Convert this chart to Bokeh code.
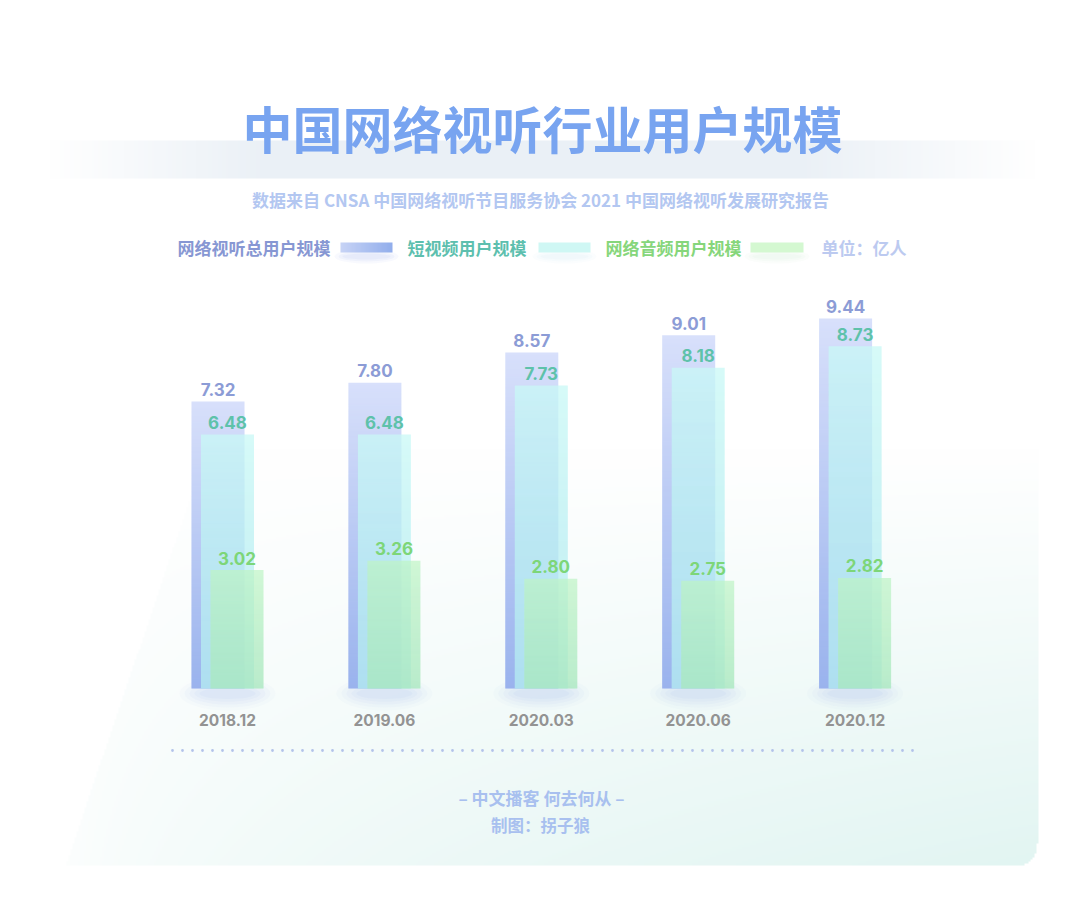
import numpy as np
from bokeh.plotting import figure
from bokeh.models import Range1d, Label
from bokeh.core.properties import value
from bokeh.embed import file_html
from bokeh.resources import INLINE

# ---------------- data ----------------
categories = ["2018.12", "2019.06", "2020.03", "2020.06", "2020.12"]
total_users = [7.32, 7.80, 8.57, 9.01, 9.44]
short_video_users = [6.48, 6.48, 7.73, 8.18, 8.73]
audio_users = [3.02, 3.26, 2.80, 2.75, 2.82]
series_names = ["网络视听总用户规模", "短视频用户规模", "网络音频用户规模"]
title_text = "中国网络视听行业用户规模"
subtitle_text = "数据来自 CNSA 中国网络视听节目服务协会 2021 中国网络视听发展研究报告"
unit_text = "单位：亿人"
footer_1 = "– 中文播客 何去何从 –"
footer_2 = "制图：拐子狼"

# ---------------- layout helpers ----------------
W, H = 1064, 895
ORG = 0                       # page px of the figure's top-left corner
GX0, GDX = 227.0, 156.9      # page px of first group centre / group spacing
BASE, PPU = 688.0, 39.2      # page px of baseline / px per unit


def X(ix):
    return (ix - GX0) / GDX


def Y(iy):
    return (BASE - iy) / PPU


CJK = "Noto Sans CJK SC"
NUM = "Inter"

p = figure(width=W, height=H,
           x_range=Range1d(X(ORG), X(ORG + W)), y_range=Range1d(Y(ORG + H), Y(ORG)),
           output_backend="svg", toolbar_location=None, min_border=0,
           x_axis_location=None, y_axis_location=None)
p.grid.visible = False
p.outline_line_color = None
p.background_fill_color = "white"
p.border_fill_color = "white"


def to_rgba(rgb, alpha):
    ny, nx = rgb.shape[:2]
    img = np.empty((ny, nx), dtype=np.uint32)
    v = img.view(dtype=np.uint8).reshape((ny, nx, 4))
    v[..., 0] = np.clip(rgb[..., 0], 0, 255).astype(np.uint8)
    v[..., 1] = np.clip(rgb[..., 1], 0, 255).astype(np.uint8)
    v[..., 2] = np.clip(rgb[..., 2], 0, 255).astype(np.uint8)
    v[..., 3] = np.clip(alpha * 255, 0, 255).astype(np.uint8)
    return img


# ---------------- background ----------------
nx, ny = 532, 448
IX = ORG + (np.arange(nx)[None, :] + 0.5) * W / nx
IY = ORG + (np.arange(ny)[:, None] + 0.5) * H / ny
IX, IY = np.broadcast_arrays(IX, IY)
rgb = np.ones((ny, nx, 3)) * 255.0
vv = np.clip((IY - 450) / 416, 0, 1)
hh = np.clip((IX - 60) / 977, 0, 1)
t = vv * np.sqrt(hh)
xl = 65 + (866 - IY) * 0.34
inside = (IX >= xl) & (IX <= 1037) & (IY <= 866)
r = 22
cx, cy = 1037 - r, 866 - r
corner = (IX > cx) & (IY > cy) & ((IX - cx) ** 2 + (IY - cy) ** 2 > r * r)
inside &= ~corner
mint = np.array([226, 245, 242])
a = np.where(inside, t, 0)[..., None]
rgb = rgb * (1 - a) + mint * a
band = (IY >= 140) & (IY <= 177)
fade = np.clip((IX - 50) / 220, 0, 1) * np.clip((1035 - IX) / 240, 0, 1)
bandc = np.array([234, 240, 246])
ab = np.where(band, fade, 0)[..., None]
rgb = rgb * (1 - ab) + bandc * ab
bg = to_rgba(rgb[::-1], np.ones((ny, nx)))
p.image_rgba(image=[bg], x=X(ORG), y=Y(ORG + H), dw=X(ORG + W) - X(ORG),
             dh=Y(ORG) - Y(ORG + H))

# ---------------- bars ----------------
idx = np.arange(len(categories), dtype=float)
off = 9.5 / GDX
bw = 53.0 / GDX
xb, xc, xg = idx - off, idx, idx + off

# soft glow below bars
for w_px, h_px, al in [(96, 34, 0.04), (86, 28, 0.05), (76, 22, 0.06),
                       (66, 16, 0.07), (56, 11, 0.08)]:
    p.ellipse(x=idx, y=[-5 / PPU] * len(idx), width=w_px / GDX, height=h_px / PPU,
              fill_color="#9db2ee", fill_alpha=al, line_color=None)


def vgrad(color, a_bottom, n=256):
    rows = (np.arange(n) + 0.5) / n
    alpha = (a_bottom * (1 - rows))[:, None] * np.ones((n, 2))
    col = np.ones((n, 2, 3)) * np.array(color)
    return to_rgba(col, alpha)


def overlay(xs, tops, color, a_bottom):
    g = vgrad(color, a_bottom)
    p.image_rgba(image=[g] * len(xs), x=list(np.array(xs) - bw / 2), y=[0] * len(xs),
                 dw=[bw] * len(xs), dh=list(tops))


p.vbar(x=xb, top=total_users, bottom=0, width=bw, fill_color="#d8e0fb", line_color=None)
overlay(xb, total_users, (142, 170, 234), 0.85)

p.vbar(x=xc, top=short_video_users, bottom=0, width=bw, fill_color="#c8f8f6",
       fill_alpha=0.75, line_color=None)
overlay(xc, short_video_users, (140, 205, 232), 0.3)

p.vbar(x=xg, top=audio_users, bottom=0, width=bw, fill_color="#bef4c4",
       fill_alpha=0.7, line_color=None)
overlay(xg, audio_users, (130, 210, 180), 0.28)

# value labels
for xs, vals, col in [(xb, total_users, "#8c9cd6"),
                      (xc, short_video_users, "#5ec2aa"),
                      (xg, audio_users, "#7dd678")]:
    p.text(x=list(xs), y=vals, text=[f"{v:.2f}" for v in vals],
           text_align="center", text_baseline="alphabetic", y_offset=-12,
           text_font=value(NUM), text_font_size="17px", text_font_style="bold",
           text_color=col)

# category labels
p.text(x=list(idx), y=[0] * len(idx), text=categories, text_align="center",
       text_baseline="middle", y_offset=31, text_font=value(NUM),
       text_font_size="15.5px", text_font_style="bold", text_color="#939393")

# dotted separator
p.line(x=[X(172), X(914)], y=[Y(750), Y(750)], line_color="#b3c3ea", line_width=2.8,
       line_dash="0 10", line_cap="round")

# ---------------- titles ----------------
p.add_layout(Label(x=X(542), y=Y(126), text=title_text, text_align="center",
                   text_baseline="middle", text_font=CJK, text_font_size="50px",
                   text_font_style="bold", text_color="#78a4f0"))
p.add_layout(Label(x=X(540), y=Y(199), text=subtitle_text, text_align="center",
                   text_baseline="middle", text_font=CJK, text_font_size="17px",
                   text_font_style="bold", text_color="#b3c7f1"))

# ---------------- legend ----------------
LY = 247
legend_cols = ["#8797d3", "#5dbfae", "#86d67b"]
legend_x = [177, 407, 605]
swatch_x = [(340, 392), (538, 590), (750, 803)]
for name, col, lx in zip(series_names, legend_cols, legend_x):
    p.add_layout(Label(x=X(lx), y=Y(LY), text=name, text_align="left",
                       text_baseline="middle", text_font=CJK, text_font_size="17px",
                       text_font_style="bold", text_color=col))
p.add_layout(Label(x=X(821), y=Y(LY), text=unit_text, text_align="left",
                   text_baseline="middle", text_font=CJK, text_font_size="17px",
                   text_font_style="bold", text_color="#bccaf0"))

# swatch shadows
for (x0, x1), sc in zip(swatch_x, ["#b9c7f2", "#d6ecf4", "#d8eedc"]):
    for k, al in enumerate([0.10, 0.12, 0.14]):
        p.ellipse(x=[X((x0 + x1) / 2)], y=[Y(LY + 9)], width=(x1 - x0 + 12 - 8 * k) / GDX,
                  height=(14 - 4 * k) / PPU, fill_color=sc, fill_alpha=al, line_color=None)
# blue swatch: horizontal gradient
sw_n = 64
cols = (np.arange(sw_n) + 0.5) / sw_n
c0, c1 = np.array([200, 212, 246]), np.array([146, 174, 236])
sw_rgb = (c0[None, None, :] * (1 - cols)[None, :, None] + c1[None, None, :] * cols[None, :, None])
sw_rgb = np.repeat(sw_rgb, 2, axis=0)
sw = to_rgba(sw_rgb, np.ones((2, sw_n)))
(bx0, bx1) = swatch_x[0]
p.image_rgba(image=[sw], x=X(bx0), y=Y(LY + 5), dw=X(bx1) - X(bx0), dh=10 / PPU)
for (x0, x1), fc in zip(swatch_x[1:], ["#cff7f4", "#d4f8d1"]):
    p.quad(left=[X(x0)], right=[X(x1)], bottom=[Y(LY + 5)], top=[Y(LY - 5)],
           fill_color=fc, line_color=None)

# ---------------- footer ----------------
p.add_layout(Label(x=X(541), y=Y(797), text=footer_1, text_align="center",
                   text_baseline="middle", text_font=CJK, text_font_size="17px",
                   text_font_style="bold", text_color="#a8c0ef"))
p.add_layout(Label(x=X(540), y=Y(824), text=footer_2, text_align="center",
                   text_baseline="middle", text_font=CJK, text_font_size="16.5px",
                   text_font_style="bold", text_color="#a8c0ef"))

open("out.html", "w").write(file_html(p, INLINE))
